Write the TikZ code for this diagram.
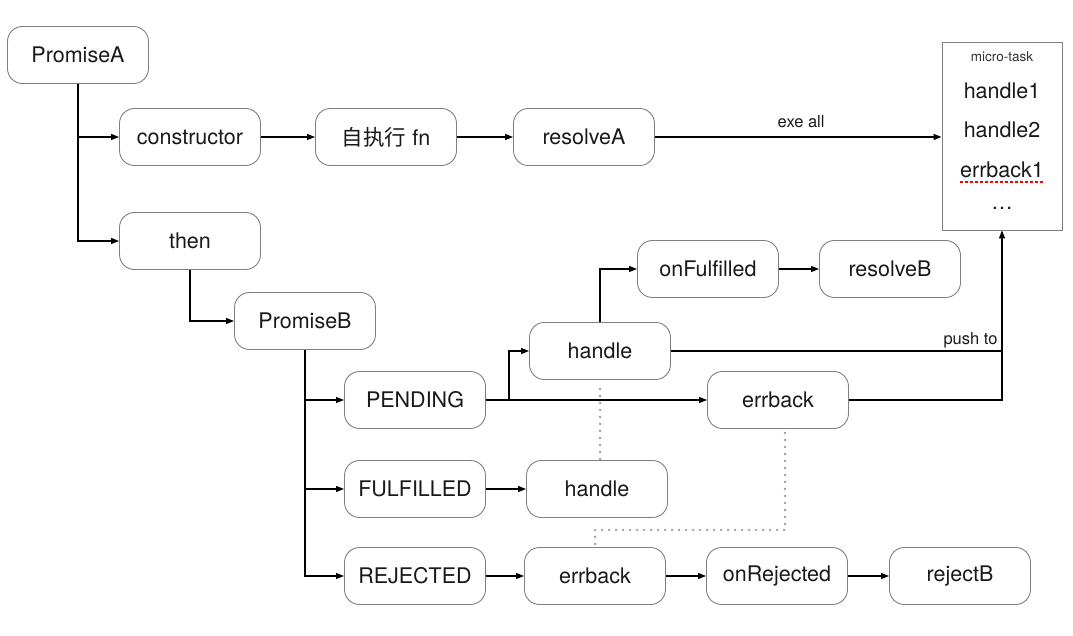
\documentclass[tikz,border=0pt]{standalone}
\usepackage{fontspec}
\setmainfont{TeX Gyre Heros}
\newfontfamily\cjk{Noto Sans CJK SC}
\usetikzlibrary{arrows.meta,calc}
\begin{document}
\begin{tikzpicture}[x=1pt,y=-1pt,
  box/.style={draw=black!50, line width=0.9pt, rounded corners=15pt, minimum width=141pt, minimum height=57pt, font=\fontsize{21.5}{25}\selectfont, text=black!90, inner sep=0pt},
  conn/.style={line width=1.1pt, -{Triangle[length=8pt,width=6pt]}},
  plain/.style={line width=1.1pt},
  dotline/.style={draw=black!40, line width=2.6pt, dash pattern=on 0pt off 7pt, line cap=round},
  lbl/.style={font=\fontsize{16.5}{19}\selectfont, text=black!90, inner sep=0pt},
  mtext/.style={font=\fontsize{21.5}{25}\selectfont, text=black!90, inner sep=0pt}]
\useasboundingbox[fill=white] (0,0) rectangle (1073,636);

% nodes
\node[box] (pa) at (78,55) {PromiseA};
\node[box] (cons) at (190,137) {constructor};
\node[box] (selfrun) at (386,137) {{\cjk 自执行} fn};
\node[box] (resA) at (584,137) {resolveA};
\node[box] (then) at (190,241) {then};
\node[box] (pb) at (305,321) {PromiseB};
\node[box] (pend) at (415,400) {PENDING};
\node[box] (ful) at (415,489) {FULFILLED};
\node[box] (rej) at (415,576) {REJECTED};
\node[box] (h1) at (600,351) {handle};
\node[box] (onf) at (708,269) {onFulfilled};
\node[box] (resB) at (890,269) {resolveB};
\node[box] (eb1) at (778,400) {errback};
\node[box] (h2) at (597,489) {handle};
\node[box] (eb2) at (595,576) {errback};
\node[box] (onr) at (777,576) {onRejected};
\node[box] (rejB) at (960,576) {rejectB};

% micro-task queue
\node[draw=black!50, line width=0.9pt, minimum width=120pt, minimum height=188pt, inner sep=0pt] (mt) at (1002,136) {};
\node[font=\fontsize{13.5}{15}\selectfont, text=black!80] (mtt) at (1002,57) {micro-task};
\node[mtext] (q1) at (1002,91) {handle1};
\node[mtext] (q2) at (1002,130) {handle2};
\node[mtext] (q3) at (1002,170) {errback1};
\node[mtext] (q4) at (1002,208) {\dots};
\draw[red, line width=1.6pt, dash pattern=on 3pt off 2pt] ([yshift=-4pt]q3.south west) -- ([yshift=-4pt]q3.south east);

% connectors
\draw[conn] (pa.south) |- (cons);
\draw[conn] (pa.south) |- (then);
\draw[conn] (cons) -- (selfrun);
\draw[conn] (selfrun) -- (resA);
\draw[conn] (resA) -- node[lbl, above=9pt, pos=0.51] {exe all} (resA -| mt.west);
\draw[conn] (then.south) |- (pb);
\draw[conn] (pb.south) |- (pend);
\draw[conn] (pb.south) |- (ful);
\draw[conn] (pb.south) |- (rej);
\draw[conn] (pend) -- (eb1);
\coordinate (j1) at (509,400);
\draw[conn] (j1) |- (h1);
\draw[conn] (h1.north) |- (onf);
\draw[conn] (onf) -- (resB);
\draw[plain] (h1.east) -- node[lbl, pos=1, anchor=base east, xshift=-4pt, yshift=7pt] {push to} (h1.east -| mt.south);
\draw[conn] (eb1.east) -| (mt.south);
\draw[conn] (ful) -- (h2);
\draw[conn] (rej) -- (eb2);
\draw[conn] (eb2) -- (onr);
\draw[conn] (onr) -- (rejB);

% dotted relations
\draw[dotline] ([yshift=-9pt]h1.south) -- (h1.south |- h2.north);
\draw[dotline] ([xshift=7pt,yshift=-4pt]eb1.south) |- ([yshift=17pt]eb2.north) -- ([yshift=3pt]eb2.north);
\end{tikzpicture}
\end{document}
